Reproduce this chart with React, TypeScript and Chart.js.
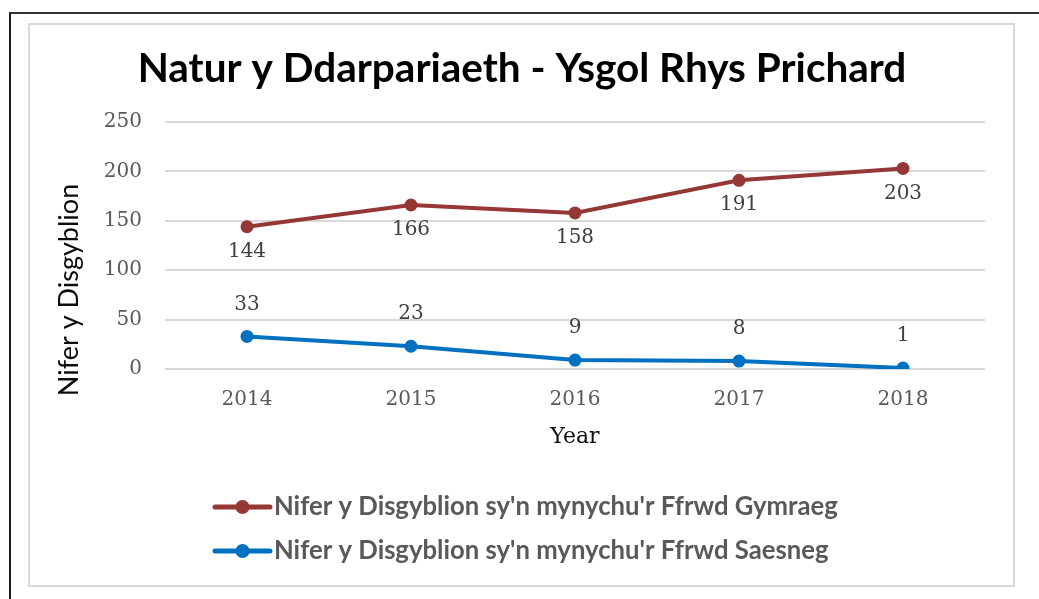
import React, { useEffect, useRef } from "react";
import { Chart, registerables } from "chart.js";

Chart.register(...registerables);

const years = ["2014", "2015", "2016", "2017", "2018"];
const welshValues = [144, 166, 158, 191, 203];
const englishValues = [33, 23, 9, 8, 1];
const seriesNames = [
  "Nifer y Disgyblion sy'n mynychu'r Ffrwd Gymraeg",
  "Nifer y Disgyblion sy'n mynychu'r Ffrwd Saesneg",
];
const chartTitle = "Natur y Ddarpariaeth - Ysgol Rhys Prichard";
const yAxisTitle = "Nifer y Disgyblion";
const xAxisTitle = "Year";

const RED = "#953735";
const BLUE = "#0070C0";

const W = 1039;
const H = 599;

const decorPlugin = {
  id: "decor",
  afterDatasetsDraw(chart: any) {
    const ctx = chart.ctx as CanvasRenderingContext2D;
    const area = chart.chartArea;
    ctx.save();
    // Title
    ctx.fillStyle = "#000000";
    ctx.font = "bold 40.5px Lato";
    ctx.textAlign = "center";
    ctx.textBaseline = "middle";
    ctx.fillText(chartTitle, 522, 69);

    // Y axis title
    ctx.save();
    ctx.translate(69, 290);
    ctx.rotate(-Math.PI / 2);
    ctx.font = "27px Lato";
    ctx.fillStyle = "#0d0d0d";
    ctx.fillText(yAxisTitle, 0, 0);
    ctx.restore();

    // X axis title
    ctx.font = "22px 'DejaVu Serif'";
    ctx.fillStyle = "#0d0d0d";
    ctx.fillText(xAxisTitle, (area.left + area.right) / 2, 437);

    // data labels
    ctx.font = "20px 'DejaVu Serif'";
    ctx.fillStyle = "#404040";
    chart.data.datasets.forEach((ds: any, i: number) => {
      const meta = chart.getDatasetMeta(i);
      meta.data.forEach((pt: any, j: number) => {
        const off = i === 0 ? 25 : -32;
        ctx.fillText(String(ds.data[j]), pt.x, pt.y + off);
      });
    });

    // legend
    const rows = [507, 551];
    chart.data.datasets.forEach((ds: any, i: number) => {
      const y = rows[i];
      ctx.strokeStyle = ds.borderColor;
      ctx.lineWidth = 5;
      ctx.lineCap = "round";
      ctx.beginPath();
      ctx.moveTo(215, y);
      ctx.lineTo(270, y);
      ctx.stroke();
      ctx.fillStyle = ds.borderColor;
      ctx.beginPath();
      ctx.arc(242.5, y, 7, 0, Math.PI * 2);
      ctx.fill();
      ctx.font = "bold 25.7px Lato";
      ctx.fillStyle = "#595959";
      ctx.textAlign = "left";
      ctx.fillText(ds.label, 274, y);
      ctx.textAlign = "center";
    });
    ctx.restore();
  },
};

export default function App() {
  const ref = useRef<HTMLCanvasElement | null>(null);

  useEffect(() => {
    document.body.style.margin = "0";
    const canvas = ref.current;
    if (!canvas) return;
    const chart = new Chart(canvas, {
      type: "line",
      data: {
        labels: years,
        datasets: [
          {
            label: seriesNames[0],
            data: welshValues,
            borderColor: RED,
            backgroundColor: RED,
            pointBackgroundColor: RED,
            pointBorderWidth: 0,
            pointRadius: 6.5,
            borderWidth: 4,
            tension: 0,
          },
          {
            label: seriesNames[1],
            data: englishValues,
            borderColor: BLUE,
            backgroundColor: BLUE,
            pointBackgroundColor: BLUE,
            pointBorderWidth: 0,
            pointRadius: 6.5,
            borderWidth: 4,
            tension: 0,
          },
        ],
      },
      options: {
        responsive: false,
        animation: false,
        layout: { padding: { left: 0, top: 122, right: 54, bottom: 0 } },
        plugins: {
          legend: { display: false },
          title: { display: false },
          tooltip: { enabled: false },
        },
        scales: {
          x: {
            offset: true,
            grid: { display: false, drawTicks: false },
            border: { display: false },
            ticks: {
              font: { family: "'DejaVu Serif'", size: 20 },
              color: "#595959",
              padding: 19,
            },
            afterFit: (s: any) => {
              s.height = 230;
            },
          },
          y: {
            min: 0,
            max: 250,
            grid: { color: "#d9d9d9", lineWidth: 2, drawTicks: false },
            border: { display: false },
            ticks: {
              stepSize: 50,
              font: { family: "'DejaVu Serif'", size: 20 },
              color: "#595959",
              padding: 23,
            },
            afterFit: (s: any) => {
              s.width = 165;
            },
          },
        },
      },
      plugins: [decorPlugin],
    });
    return () => chart.destroy();
  }, []);

  return (
    <div style={{ position: "absolute", left: 0, top: 0, width: W, height: H, background: "#fff" }}>
      <div
        style={{
          position: "absolute",
          left: 9,
          top: 12,
          width: W - 9,
          height: H - 12,
          borderLeft: "2px solid #1a1a1a",
          borderTop: "2px solid #333",
          boxSizing: "border-box",
        }}
      />
      <div
        style={{
          position: "absolute",
          left: 28,
          top: 23,
          width: 987,
          height: 564,
          border: "2px solid #d9d9d9",
          boxSizing: "border-box",
        }}
      />
      <canvas
        ref={ref}
        width={W}
        height={H}
        style={{ position: "absolute", left: 0, top: 0, width: W, height: H }}
      />
    </div>
  );
}
